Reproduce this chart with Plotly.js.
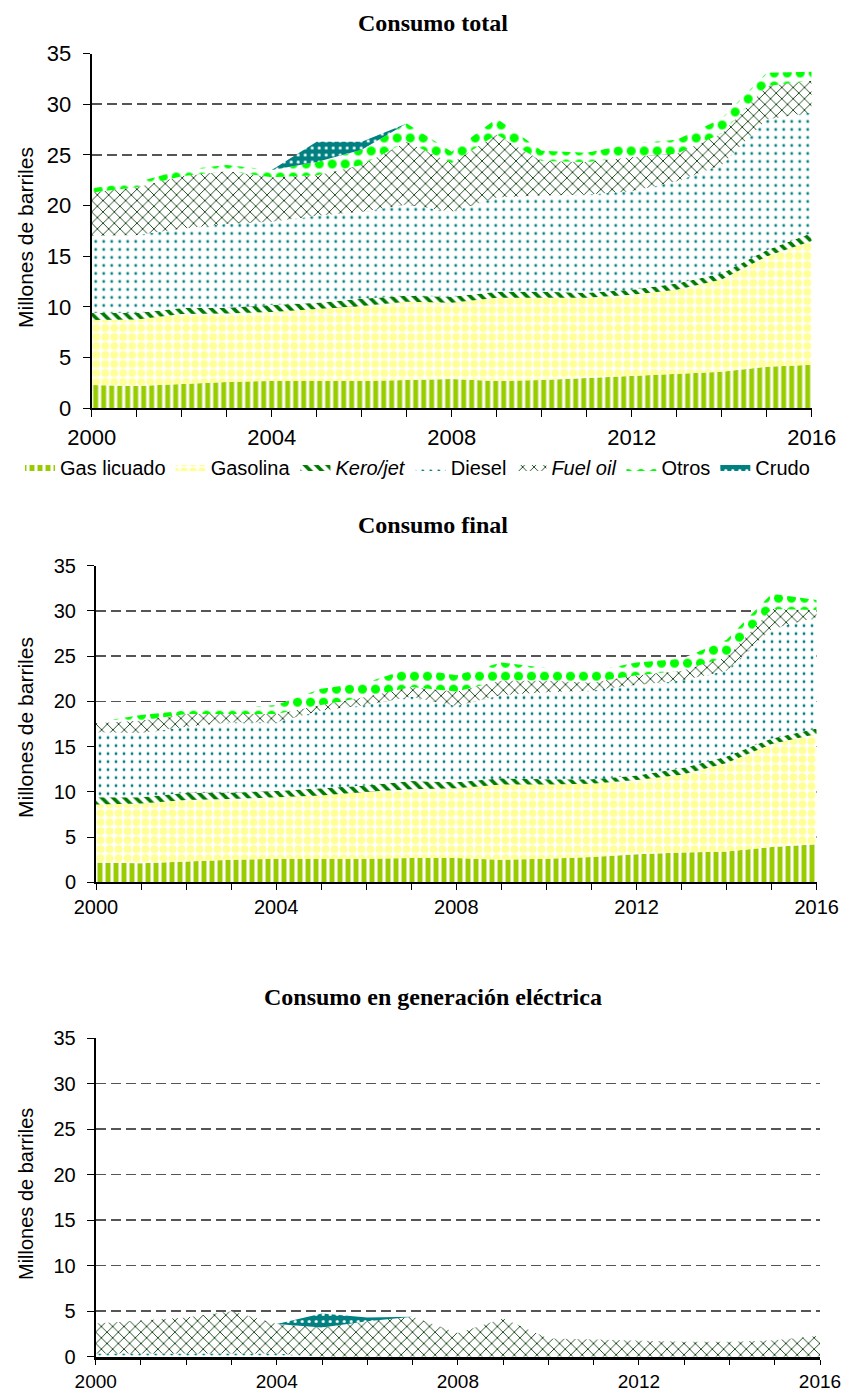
<!DOCTYPE html>
<html>
<head>
<meta charset="utf-8">
<script src="https://cdn.plot.ly/plotly-3.0.1.min.js"></script>
<style>
html,body{margin:0;padding:0;background:#fff;}
#chart{width:846px;height:1395px;}
</style>
</head>
<body>
<div id="chart"></div>
<script>
// ---------- DATA ----------
const years = [2000,2001,2002,2003,2004,2005,2006,2007,2008,2009,2010,2011,2012,2013,2014,2015,2016];
const tickLabels = ['2000','','','','2004','','','','2008','','','','2012','','','','2016'];
const seriesNames = ['Gas licuado','Gasolina','<i>Kero/jet</i>','Diesel','<i>Fuel oil</i>','Otros','Crudo'];

// Consumo total (millones de barriles, per layer)
const totGas      = [2.3,2.2,2.4,2.6,2.7,2.7,2.7,2.8,2.9,2.7,2.8,3.0,3.2,3.4,3.6,4.1,4.3];
const totGasolina = [6.4,6.55,6.9,6.75,6.8,7.1,7.4,7.7,7.5,8.2,8.1,7.9,8.0,8.3,9.1,10.9,12.2];
const totKero     = [0.7,0.65,0.6,0.55,0.7,0.6,0.7,0.6,0.6,0.6,0.6,0.5,0.5,0.6,0.6,0.6,0.8];
const totDiesel   = [7.6,7.7,7.8,8.3,8.2,8.6,8.6,9.0,8.4,9.3,9.5,9.7,9.7,10.1,10.7,12.9,11.9];
const totFuel     = [4.3,4.7,5.2,5.2,4.4,4.0,4.6,6.2,4.8,6.2,3.4,3.2,3.4,2.7,3.1,3.3,3.1];
const totOtros    = [0.4,0.5,0.6,0.6,0.7,1.3,1.5,1.8,1.1,1.6,1.0,0.9,1.3,1.4,1.5,1.3,0.9];
const totCrudo    = [0,0,0,0,0,2.0,0.8,0,0,0,0,0,0,0,0,0,0];

// Consumo final
const finGas      = [2.2,2.1,2.3,2.5,2.6,2.6,2.6,2.7,2.7,2.5,2.6,2.8,3.1,3.3,3.4,3.9,4.2];
const finGasolina = [6.4,6.6,6.8,6.7,6.8,7.0,7.4,7.6,7.7,8.3,8.2,8.1,8.2,8.6,9.8,11.4,12.2];
const finKero     = [0.8,0.7,0.8,0.7,0.7,0.8,0.7,0.9,0.65,0.7,0.6,0.5,0.5,0.7,0.7,0.6,0.6];
const finDiesel   = [7.2,7.1,7.3,7.8,7.6,8.6,8.9,9.3,8.45,9.2,9.6,9.8,10.0,9.7,9.5,12.1,12.3];
const finFuel     = [1.0,1.4,1.4,0.9,0.9,0.6,0.9,1.1,1.6,1.6,1.3,0.9,1.1,1.1,1.5,2.2,0.8];
const finOtros    = [0.1,0.6,0.4,0.6,1.0,1.8,1.6,2.1,1.8,2.0,1.4,1.2,1.4,1.3,1.9,1.7,1.1];

// Consumo en generación eléctrica
const eleDiesel   = [0.35,0.35,0.35,0.35,0.35,0,0,0,0,0,0,0,0,0,0,0,0];
const eleFuel     = [3.3,3.65,3.95,4.65,3.25,3.2,3.9,4.4,2.6,4.2,2.0,1.9,1.8,1.65,1.65,1.8,2.3];
const eleCrudo    = [0,0,0,0,0,1.55,0.4,0,0,0,0,0,0,0,0,0,0];

// ---------- STYLES ----------
const styles = [
  {shape:'|', fg:'#99CC00', bg:'#ffffff', size:8, solidity:0.62},  // Gas licuado
  {shape:'.', fg:'#FFFF99', bg:'#ffffff', size:9, solidity:0.62},  // Gasolina
  {shape:'\\', fg:'#007A00', bg:'#ffffff', size:8, solidity:0.45}, // Kero/jet
  {shape:'.', fg:'#008080', bg:'#ffffff', size:8, solidity:0.1},   // Diesel
  {shape:'x', fg:'#003300', bg:'#ffffff', size:8, solidity:0.2},   // Fuel oil
  {shape:'.', fg:'#00FF00', bg:'#ffffff', size:13, solidity:0.38}, // Otros
  {shape:'.', fg:'#ffffff', bg:'#008080', size:7, solidity:0.15}   // Crudo
];

function mk(idx, y, ax, stack, show) {
  const s = styles[idx];
  return {
    type:'scatter', mode:'lines', x:years, y:y,
    stackgroup:stack, name:seriesNames[idx],
    xaxis:'x'+ax, yaxis:'y'+ax,
    line:{width:0, color:s.fg === '#ffffff' ? s.bg : s.fg},
    fillcolor:s.bg,
    fillpattern:{shape:s.shape, fgcolor:s.fg, bgcolor:s.bg, size:s.size, solidity:s.solidity, fillmode:'replace'},
    showlegend:show, legendgroup:'g'+idx, hoverinfo:'skip'
  };
}

const traces = [
  mk(0,totGas,'', 'a', true), mk(1,totGasolina,'', 'a', true), mk(2,totKero,'', 'a', true),
  mk(3,totDiesel,'', 'a', true), mk(4,totFuel,'', 'a', true), mk(5,totOtros,'', 'a', true), mk(6,totCrudo,'', 'a', true),
  mk(0,finGas,'2','b',false), mk(1,finGasolina,'2','b',false), mk(2,finKero,'2','b',false),
  mk(3,finDiesel,'2','b',false), mk(4,finFuel,'2','b',false), mk(5,finOtros,'2','b',false),
  mk(3,eleDiesel,'3','c',false), mk(4,eleFuel,'3','c',false), mk(6,eleCrudo,'3','c',false)
];

const W = 846, H = 1395;
const sans = 'Liberation Sans, Arial, sans-serif';
function xa(l, r, fs, lw, anchor, tl, so) {
  return {
    domain:[l/W, r/W], range:[2000,2016], tickmode:'array', tickvals:years, ticktext:tickLabels,
    ticks:'outside', ticklen:tl, tickcolor:'#000', tickwidth:1, ticklabelstandoff:so,
    showline:true, linecolor:'#000', linewidth:lw, showgrid:false, zeroline:false,
    tickfont:{family:sans, size:fs, color:'#000'}, anchor:anchor, fixedrange:true
  };
}
function ya(top, bot, fs, anchor) {
  return {
    domain:[1-bot/H, 1-top/H], range:[0,35], dtick:5, tick0:0,
    ticks:'outside', ticklen:7, tickcolor:'#000', ticklabelstandoff:7,
    showline:true, linecolor:'#000', linewidth:2,
    showgrid:true, gridcolor:'#555555', gridwidth:1.6, griddash:'10px,5px', zeroline:false,
    tickfont:{family:sans, size:fs, color:'#000'},
    anchor:anchor, fixedrange:true
  };
}

const titleFont = {family:'Liberation Serif, Times New Roman, serif', size:24, color:'#000'};
function ytitle(x, y, fs) {
  return {text:'Millones de barriles', xref:'paper', yref:'paper', x:x/W, y:1-y/H, showarrow:false,
          textangle:-90, font:{family:sans, size:fs, color:'#000'}, xanchor:'center', yanchor:'middle'};
}
const layout = {
  width:W, height:H, margin:{l:0,r:0,t:0,b:0},
  paper_bgcolor:'#fff', plot_bgcolor:'#fff',
  xaxis: xa(91.7, 811.7, 22, 2, 'y', 7, 1),
  yaxis: ya(53.5, 408.3, 22, 'x'),
  xaxis2: xa(96, 816.7, 20, 2, 'y2', 6, 0),
  yaxis2: ya(565.7, 882.3, 20, 'x2'),
  xaxis3: xa(95.7, 820, 19, 3.5, 'y3', 5, 0),
  yaxis3: ya(1038, 1356.7, 20, 'x3'),
  showlegend:true,
  legend:{orientation:'h', x:20/W, xanchor:'left', y:1-467/H, yanchor:'middle',
          font:{family:sans, size:20, color:'#000'},
          itemwidth:30, tracegroupgap:0, traceorder:'normal', bgcolor:'rgba(0,0,0,0)'},
  annotations:[
    {text:'<b>Consumo total</b>', xref:'paper', yref:'paper', x:433/W, y:1-23/H, showarrow:false, font:titleFont, xanchor:'center', yanchor:'middle'},
    {text:'<b>Consumo final</b>', xref:'paper', yref:'paper', x:433/W, y:1-525/H, showarrow:false, font:titleFont, xanchor:'center', yanchor:'middle'},
    {text:'<b>Consumo en generación eléctrica</b>', xref:'paper', yref:'paper', x:433/W, y:1-997/H, showarrow:false, font:titleFont, xanchor:'center', yanchor:'middle'},
    ytitle(26, 238, 21), ytitle(26, 728, 21), ytitle(26, 1194, 20)
  ]
};

Plotly.newPlot('chart', traces, layout, {displayModeBar:false, staticPlot:true});
</script>
</body>
</html>
